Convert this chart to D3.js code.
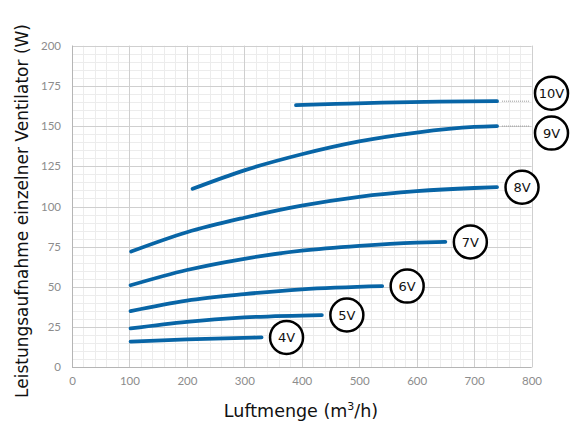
<!DOCTYPE html>
<html>
<head>
<meta charset="utf-8">
<script src="https://cdn.jsdelivr.net/npm/d3@7"></script>
<style>
  body { margin: 0; background: #fff; }
</style>
</head>
<body>
<script>
// series: voltage label + [Luftmenge m3/h, Leistung W]
var voltages = ["10V", "9V", "8V", "7V", "6V", "5V", "4V"];
var v10 = [[390, 163], [460, 163.8], [540, 164.6], [640, 165.2], [740, 165.5]];
var v9 = [[210, 111], [300, 122.5], [400, 132.5], [500, 140.5], [600, 146], [700, 149.5], [740, 150]];
var v8 = [[103, 72], [200, 84], [300, 93], [400, 100.5], [500, 106], [600, 109.5], [700, 111.5], [740, 112]];
var v7 = [[102, 51], [200, 60.5], [300, 67.5], [400, 72.5], [500, 75.5], [600, 77.5], [650, 78]];
var v6 = [[102, 35], [200, 41.5], [300, 45.5], [400, 48.5], [540, 50.5]];
var v5 = [[102, 24.2], [200, 28.3], [300, 31], [435, 32.5]];
var v4 = [[102, 16], [200, 17.4], [330, 18.6]];
var seriesValues = [v10, v9, v8, v7, v6, v5, v4];
var withLeader = ["10V", "9V"];

var xTicks = [0, 100, 200, 300, 400, 500, 600, 700, 800];
var yTicks = [0, 25, 50, 75, 100, 125, 150, 175, 200];

var w = 571, h = 421;
var plotLeft = 72, plotRight = 531.5, plotTop = 45.7, plotBottom = 367.3;

var svg = d3.select("body")
  .append("svg")
  .attr("width", w)
  .attr("height", h);

var xScale = d3.scaleLinear().domain([0, 800]).range([plotLeft, plotRight]);
var yScale = d3.scaleLinear().domain([0, 200]).range([plotBottom, plotTop]);

/* ===== GRID ===== */

var grid = svg.append("g");

grid.selectAll("line.minx")
  .data(d3.range(0, 801, 20))
  .enter().append("line")
  .attr("x1", function (d) { return Math.round(xScale(d)) + 0.5; })
  .attr("x2", function (d) { return Math.round(xScale(d)) + 0.5; })
  .attr("y1", plotTop).attr("y2", plotBottom)
  .attr("stroke", "#ececec");

grid.selectAll("line.miny")
  .data(d3.range(0, 201, 5))
  .enter().append("line")
  .attr("y1", function (d) { return Math.round(yScale(d)) + 0.5; })
  .attr("y2", function (d) { return Math.round(yScale(d)) + 0.5; })
  .attr("x1", plotLeft).attr("x2", plotRight)
  .attr("stroke", "#ececec");

grid.selectAll("line.majx")
  .data(xTicks)
  .enter().append("line")
  .attr("x1", function (d) { return Math.round(xScale(d)) + 0.5; })
  .attr("x2", function (d) { return Math.round(xScale(d)) + 0.5; })
  .attr("y1", plotTop).attr("y2", plotBottom)
  .attr("stroke", "#cfcfcf");

grid.selectAll("line.majy")
  .data(yTicks)
  .enter().append("line")
  .attr("y1", function (d) { return Math.round(yScale(d)) + 0.5; })
  .attr("y2", function (d) { return Math.round(yScale(d)) + 0.5; })
  .attr("x1", plotLeft).attr("x2", plotRight)
  .attr("stroke", "#cfcfcf");

// axis frame lines
svg.append("line")
  .attr("x1", plotLeft).attr("x2", plotRight)
  .attr("y1", Math.round(plotBottom) + 0.5).attr("y2", Math.round(plotBottom) + 0.5)
  .attr("stroke", "#b5b5b5");
svg.append("line")
  .attr("x1", Math.round(plotLeft) + 0.5).attr("x2", Math.round(plotLeft) + 0.5)
  .attr("y1", plotTop).attr("y2", plotBottom)
  .attr("stroke", "#b5b5b5");

/* ===== AXES ===== */

var xAxis = d3.axisBottom(xScale).tickValues(xTicks).tickSize(0).tickPadding(10);
var yAxis = d3.axisLeft(yScale).tickValues(yTicks).tickSize(0).tickPadding(11);

var gx = svg.append("g")
  .attr("transform", "translate(0," + plotBottom + ")")
  .call(xAxis);
var gy = svg.append("g")
  .attr("transform", "translate(" + plotLeft + ",0)")
  .call(yAxis);

[gx, gy].forEach(function (g) {
  g.select(".domain").remove();
  g.selectAll("text")
    .attr("font-family", "Lato, sans-serif")
    .attr("font-size", "11.5px")
    .attr("fill", "#8c8c8c");
});

/* ===== CURVES ===== */

var line = d3.line()
  .x(function (d) { return xScale(d[0]); })
  .y(function (d) { return yScale(d[1]); })
  .curve(d3.curveMonotoneX);

svg.selectAll("path.curve")
  .data(seriesValues)
  .enter().append("path")
  .attr("class", "curve")
  .attr("d", line)
  .attr("fill", "none")
  .attr("stroke", "#0865a6")
  .attr("stroke-width", 3.8)
  .attr("stroke-linecap", "round");

/* ===== LABELS ===== */

var labels = svg.selectAll("g.lbl")
  .data(voltages)
  .enter().append("g")
  .attr("class", "lbl");

function lastPoint(i) {
  var s = seriesValues[i];
  return s[s.length - 1];
}

labels.each(function (v, i) {
  var g = d3.select(this);
  var p = lastPoint(i);
  var px = xScale(p[0]), py = yScale(p[1]);
  var cx = px + 25, cy = py;
  if (withLeader.indexOf(v) >= 0) {
    g.append("line")
      .attr("x1", px + 5).attr("x2", xScale(800) - 2)
      .attr("y1", py).attr("y2", py)
      .attr("stroke", "#9a9a9a")
      .attr("stroke-width", 1)
      .attr("stroke-dasharray", "1,1");
    cx = xScale(800) + 20;
    cy = py + (v === "10V" ? -8 : 7);
  }
  g.append("circle")
    .attr("cx", cx).attr("cy", cy).attr("r", 16.5)
    .attr("fill", "#fff")
    .attr("stroke", "#000")
    .attr("stroke-width", 2.5);
  g.append("text")
    .attr("x", cx).attr("y", cy)
    .attr("dy", "0.36em")
    .attr("text-anchor", "middle")
    .attr("font-family", "DejaVu Sans, sans-serif")
    .attr("font-size", "13px")
    .attr("fill", "#111")
    .text(v);
});

/* ===== TITLES ===== */

var xTitle = svg.append("text")
  .attr("x", 301).attr("y", 417)
  .attr("text-anchor", "middle")
  .attr("font-family", "DejaVu Sans, sans-serif")
  .attr("font-size", "17.5px")
  .attr("fill", "#111");
xTitle.append("tspan").text("Luftmenge (m");
xTitle.append("tspan").attr("dy", -7).attr("font-size", "11px").text("3");
xTitle.append("tspan").attr("dy", 7).text("/h)");

svg.append("text")
  .attr("transform", "translate(28,211) rotate(-90)")
  .attr("text-anchor", "middle")
  .attr("font-family", "DejaVu Sans, sans-serif")
  .attr("font-size", "17px")
  .attr("fill", "#111")
  .text("Leistungsaufnahme einzelner Ventilator (W)");
</script>
</body>
</html>
